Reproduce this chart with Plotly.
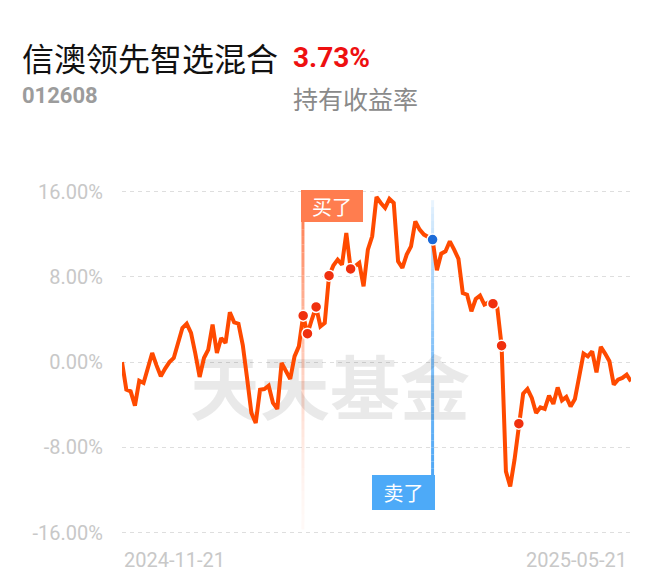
import plotly.graph_objects as go

fund_name = "信澳领先智选混合"
fund_code = "012608"
hold_return = "3.73%"
hold_label = "持有收益率"
watermark = "天天基金"

day = list(range(0, 119))
ret = [0.0, -2.58, -2.74, -4.08, -1.74, -1.95, -0.55, 0.86, -0.3, -1.33,
       -0.6, 0.0, 0.39, 1.8, 3.21, 3.61, 2.74, 0.8, -1.39, 0.39,
       1.17, 3.52, 0.86, 2.27, 1.80, 4.67, 3.74, 3.61, 1.6, -1.5,
       -4.77, -5.71, -2.58, -2.52, -2.21, -3.83, -4.39, -0.08, -0.9, -1.58,
       0.54, 1.48, 4.36, 2.67, 4.0, 5.18, 3.36, 3.68, 8.12, 9.06,
       9.62, 9.15, 12.13, 8.75, 8.99, 9.31, 7.11, 10.56, 11.81, 15.50,
       14.94, 14.47, 15.32, 14.94, 9.46, 8.84, 10.09, 10.87, 13.21, 12.44,
       11.97, 11.7, 11.50, 8.62, 10.18, 10.40, 11.34, 10.56, 9.69, 6.49,
       6.33, 4.77, 5.93, 6.24, 5.40, 5.61, 5.49, 5.1, 1.55, -10.25,
       -11.66, -9.15, -5.77, -2.96, -2.52, -3.36, -4.77, -4.24, -4.39, -3.14,
       -3.92, -2.37, -3.59, -3.27, -4.15, -3.45, -1.33, 0.80, 0.54, 1.01,
       -0.96, 1.43, 0.80, 0.08, -2.11, -1.64, -1.48, -1.17, -1.80]

trade_days = [42, 43, 45, 48, 53, 86, 88, 92]
buy_day = 42
sell_day = 72
buy_text = "买了"
sell_text = "卖了"

y_ticks = [16, 8, 0, -8, -16]
y_tick_text = ["16.00%", "8.00%", "0.00%", "-8.00%", "-16.00%"]
x_tick_days = [0, 118]
x_tick_text = ["2024-11-21", "2025-05-21"]

OFF = 8  # page body margin
W, H = 644, 569
ML, MR, MT, MB = 114, 21, 173, 39
YR = [-16.5, 17]
PW, PH = W - ML - MR, H - MT - MB


def px(x):
    return (x - OFF - ML) / PW


def py(y):
    return (H - MB - (y - OFF)) / PH


fig = go.Figure()

# watermark (behind the line)
fig.add_trace(go.Scatter(
    x=[48.2], y=[-3.3], mode="text", text=[watermark],
    textfont=dict(family="Noto Sans CJK SC", size=70, color="rgba(0,0,0,0.085)", weight="bold"),
    textposition="middle center", hoverinfo="skip", cliponaxis=False, showlegend=False))

# main line
fig.add_trace(go.Scatter(
    x=day, y=ret, mode="lines", line=dict(color="#FF4A00", width=4),
    hoverinfo="skip", showlegend=False))

lookup = dict(zip(day, ret))
fig.add_trace(go.Scatter(
    x=trade_days, y=[lookup[d] for d in trade_days], mode="markers",
    marker=dict(color="#F0300E", size=11, line=dict(color="white", width=1.5)),
    hoverinfo="skip", showlegend=False))
fig.add_trace(go.Scatter(
    x=[sell_day], y=[lookup[sell_day]], mode="markers",
    marker=dict(color="#1C6BD8", size=11, line=dict(color="white", width=1.5)),
    hoverinfo="skip", showlegend=False))

shapes = []
# buy gradient line
n = 40
top, bot = 13.2, -15.7
for i in range(n):
    t0 = i / n
    t1 = (i + 1) / n
    a = 0.9 * (1 - t0) ** 1.6 + 0.04
    shapes.append(dict(type="line", xref="x", yref="y", x0=buy_day - 0.05, x1=buy_day - 0.05,
                       y0=top + (bot - top) * t0, y1=top + (bot - top) * t1,
                       line=dict(color=f"rgba(255,125,80,{a:.3f})", width=3), layer="between"))
# sell gradient line
top, bot = 15.2, -10.6
for i in range(n):
    t0 = i / n
    t1 = (i + 1) / n
    a = 0.12 + 0.88 * t0 ** 0.7
    shapes.append(dict(type="line", xref="x", yref="y", x0=sell_day, x1=sell_day,
                       y0=top + (bot - top) * t0, y1=top + (bot - top) * t1,
                       line=dict(color=f"rgba(77,166,245,{a:.3f})", width=3), layer="between"))

annotations = []
# header
annotations.append(dict(xref="paper", yref="paper", x=px(20), y=py(57), xanchor="left", yanchor="middle",
                        text=fund_name, showarrow=False,
                        font=dict(family="Noto Sans CJK SC", size=32, color="#111111")))
annotations.append(dict(xref="paper", yref="paper", x=px(291), y=py(58), xanchor="left", yanchor="middle",
                        text=f"<b>{hold_return}</b>", showarrow=False,
                        font=dict(family="Roboto", size=28, color="#EE1010")))
annotations.append(dict(xref="paper", yref="paper", x=px(20), y=py(96), xanchor="left", yanchor="middle",
                        text=f"<b>{fund_code}</b>", showarrow=False,
                        font=dict(family="Roboto", size=22, color="#9C9C9C")))
annotations.append(dict(xref="paper", yref="paper", x=px(291), y=py(98), xanchor="left", yanchor="middle",
                        text=hold_label, showarrow=False,
                        font=dict(family="Noto Sans CJK SC", size=25, color="#8A8A8A")))
# buy / sell labels
annotations.append(dict(xref="x", yref="y", x=buy_day, y=16.19, xanchor="left", yanchor="top",
                        xshift=-2, text=buy_text, showarrow=False, bgcolor="#FF7D4F",
                        borderwidth=0, borderpad=3, width=56, height=26,
                        font=dict(family="Noto Sans CJK SC", size=20, color="white")))
annotations.append(dict(xref="x", yref="y", x=sell_day, y=-10.56, xanchor="right", yanchor="top",
                        xshift=2, text=sell_text, showarrow=False, bgcolor="#4DAAF8",
                        borderwidth=0, borderpad=3, width=57, height=29,
                        font=dict(family="Noto Sans CJK SC", size=20, color="white")))
# x tick labels
annotations.append(dict(xref="x", yref="paper", x=x_tick_days[0], y=py(560), xanchor="left", yanchor="middle",
                        text=x_tick_text[0], showarrow=False,
                        font=dict(family="Roboto", size=20, color="#C8C8C8")))
annotations.append(dict(xref="x", yref="paper", x=x_tick_days[1], y=py(560), xanchor="right", yanchor="middle",
                        xshift=-2, text=x_tick_text[1], showarrow=False,
                        font=dict(family="Roboto", size=20, color="#C8C8C8")))

fig.update_layout(
    width=W, height=H, margin=dict(l=ML, r=MR, t=MT, b=MB),
    paper_bgcolor="white", plot_bgcolor="white",
    shapes=shapes, annotations=annotations, showlegend=False,
    xaxis=dict(range=[0, 118], showgrid=False, zeroline=False, showline=False,
               showticklabels=False, ticks=""),
    yaxis=dict(range=YR, tickvals=y_ticks, ticktext=y_tick_text, showgrid=True,
               gridcolor="#DEDEDE", gridwidth=1.3, griddash="4px,4px", zeroline=False,
               showline=False, ticks="outside", ticklen=14, tickcolor="rgba(0,0,0,0)",
               tickfont=dict(family="Roboto", size=20, color="#C8C8C8")),
)

fig.write_html("out.html")
